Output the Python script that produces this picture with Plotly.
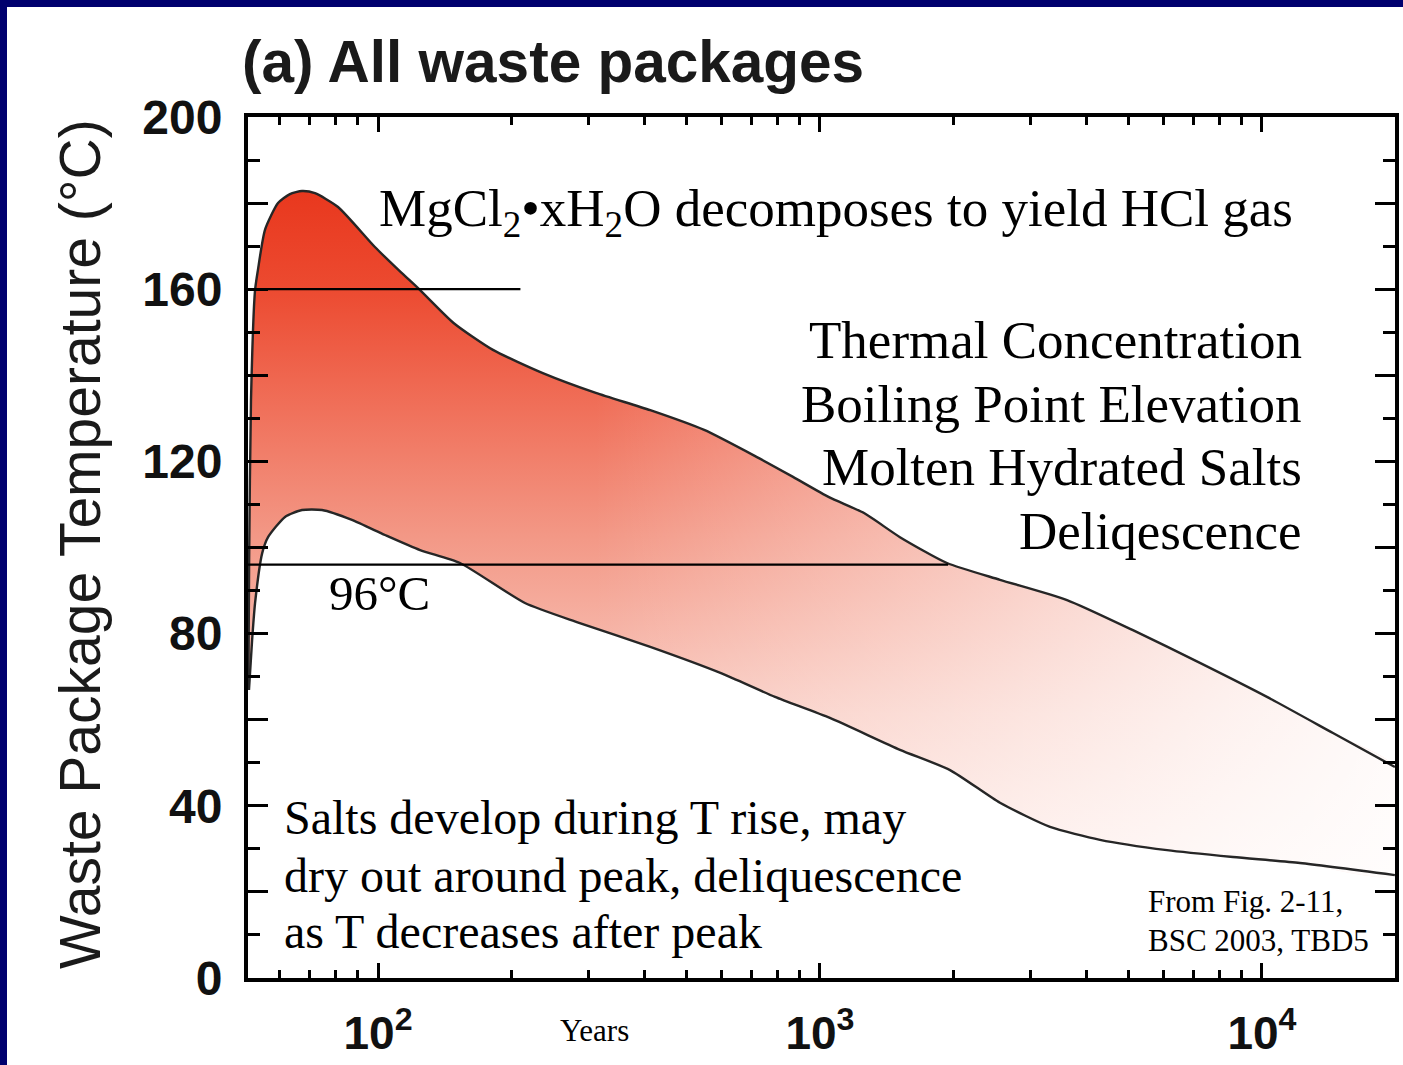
import math
import plotly.graph_objects as go

# ---------------- data ----------------
upper_years = [50.9, 51.1, 51.6, 52.7, 53.5, 55.5, 59.4, 63.2, 67.3, 72.0,
               81.2, 98.4, 112, 124.5, 148.5, 182, 236, 311, 413, 547,
               720, 869, 1048, 1258, 1517, 1938, 2554, 3622, 5106, 7238,
               10264, 14477, 19990]
upper_temp = [66.9, 97.1, 134.3, 159.8, 164.5, 173.8, 180.0, 182.1, 182.8, 182.3,
              179.1, 169.8, 164.2, 159.8, 152.1, 145.9, 140.5, 135.9, 131.9, 127.3,
              121.0, 116.4, 111.7, 108.0, 102.4, 96.4, 92.5, 87.8, 80.8, 73.2,
              65.3, 56.9, 49.0]
lower_years = [51.06, 51.9, 52.7, 54.7, 56.4, 61.6, 67.3, 74.7, 87.3, 103.7,
               124.5, 153.3, 215, 285, 413, 597, 791, 1053, 1517, 1969,
               2554, 3315, 4301, 6098, 8600, 12190, 19990]
lower_temp = [66.9, 78.5, 87.1, 98.7, 102.4, 107.1, 108.7, 108.7, 106.4, 102.9,
              99.4, 96.4, 87.1, 82.5, 76.9, 70.8, 65.3, 60.4, 53.0, 48.3,
              40.7, 35.1, 32.1, 29.7, 28.1, 26.7, 23.9]

ref_temps = [160, 96]
ref_start_year = 50.8
ref_end_years = [210, 1950]

x_major_vals = [100, 1000, 10000]
x_major_text = ["10<sup>2</sup>", "10<sup>3</sup>", "10<sup>4</sup>"]
y_major_vals = [0, 20, 40, 60, 80, 100, 120, 140, 160, 180, 200]
y_major_text = ["0", "", "40", "", "80", "", "120", "", "160", "", "200"]
y_minor_vals = [10, 30, 50, 70, 90, 110, 130, 150, 170, 190]
x_minor_vals = [60, 70, 80, 90, 200, 300, 400, 500, 600, 700, 800, 900,
                2000, 3000, 4000, 5000, 6000, 7000, 8000, 9000]

right_lines = ["Thermal Concentration", "Boiling Point Elevation",
               "Molten Hydrated Salts", "Deliqescence"]
right_lines_temp = [148.2, 133.3, 118.7, 103.8]
salt_lines = ["Salts develop during T rise, may",
              "dry out around peak, deliquescence",
              "as T decreases after peak"]
salt_lines_temp = [37.2, 23.9, 10.7]
src_lines = ["From Fig. 2-11,", "BSC 2003, TBD5"]
src_lines_temp = [17.7, 8.8]

# ---------------- figure ----------------
SERIF = "Liberation Serif, Times New Roman, serif"
SANS = "Liberation Sans, Arial, sans-serif"

poly_x = upper_years + lower_years[::-1]
poly_y = upper_temp + lower_temp[::-1]

fig = go.Figure()

# red vertical gradient fill
fig.add_trace(go.Scatter(
    x=poly_x, y=poly_y, mode="lines", fill="toself",
    line=dict(width=0, color="rgba(0,0,0,0)", shape="spline", smoothing=0.6),
    fillgradient=dict(type="vertical", start=20, stop=185, colorscale=[
        [0.0, "rgb(254,236,232)"],
        [0.25, "rgb(249,202,192)"],
        [0.5, "rgb(243,152,134)"],
        [0.68, "rgb(240,112,90)"],
        [0.85, "rgb(236,74,48)"],
        [1.0, "rgb(232,54,28)"],
    ]),
    hoverinfo="skip"))

# white horizontal fade towards the right
fig.add_trace(go.Scatter(
    x=poly_x, y=poly_y, mode="lines", fill="toself",
    line=dict(width=0, color="rgba(0,0,0,0)", shape="spline", smoothing=0.6),
    fillgradient=dict(type="horizontal", colorscale=[
        [0.0, "rgba(255,255,255,0)"],
        [0.3, "rgba(255,255,255,0)"],
        [0.6, "rgba(255,255,255,0.4)"],
        [0.85, "rgba(255,255,255,0.75)"],
        [1.0, "rgba(255,255,255,0.92)"],
    ]),
    hoverinfo="skip"))

# envelope outlines
for xs, ys in [(upper_years, upper_temp), (lower_years, lower_temp)]:
    fig.add_trace(go.Scatter(
        x=xs, y=ys, mode="lines",
        line=dict(color="#262626", width=2.4, shape="spline", smoothing=0.6),
        hoverinfo="skip"))

# reference lines
for t, xe in zip(ref_temps, ref_end_years):
    fig.add_trace(go.Scatter(
        x=[ref_start_year, xe], y=[t, t], mode="lines",
        line=dict(color="black", width=2.2), hoverinfo="skip"))

W, H = 1403, 1065
L, R, T, B = 248, 8, 117, 87
pw, ph = W - L - R, H - T - B
BOTTOM = T + ph  # pixel row of the x axis


def px2paper_x(px):
    return (px - L) / pw


def py2paper_y(py):
    return (BOTTOM - py) / ph


ann = []
ann.append(dict(text="(a) All waste packages", xref="paper", yref="paper",
                x=px2paper_x(240), y=py2paper_y(61), xanchor="left", yanchor="middle",
                showarrow=False, font=dict(family=SANS, size=58.5, color="#1a1a1a", weight="bold")))
ann.append(dict(text="Waste Package Temperature (°C)", xref="paper", yref="paper",
                x=px2paper_x(80), y=py2paper_y(544), xanchor="center", yanchor="middle",
                textangle=-90, showarrow=False,
                font=dict(family=SANS, size=57, color="#1a1a1a")))
ann.append(dict(text="Years", xref="paper", yref="paper",
                x=px2paper_x(594), y=py2paper_y(1030), xanchor="center", yanchor="middle",
                showarrow=False, font=dict(family=SERIF, size=31, color="black")))
ann.append(dict(text="MgCl<sub>2</sub>•xH<sub>2</sub>O decomposes to yield HCl gas",
                xref="paper", yref="y", x=px2paper_x(377), y=177.9,
                xanchor="left", yanchor="middle", showarrow=False,
                font=dict(family=SERIF, size=53, color="black")))
for txt, yv in zip(right_lines, right_lines_temp):
    ann.append(dict(text=txt, xref="paper", yref="y", x=px2paper_x(1304), y=yv,
                    xanchor="right", yanchor="middle", showarrow=False,
                    font=dict(family=SERIF, size=53, color="black")))
ann.append(dict(text="96°C", xref="paper", yref="y", x=px2paper_x(327), y=89.2,
                xanchor="left", yanchor="middle", showarrow=False,
                font=dict(family=SERIF, size=49, color="black")))
for txt, yv in zip(salt_lines, salt_lines_temp):
    ann.append(dict(text=txt, xref="paper", yref="y", x=px2paper_x(282), y=yv,
                    xanchor="left", yanchor="middle", showarrow=False,
                    font=dict(family=SERIF, size=48, color="black")))
for txt, yv in zip(src_lines, src_lines_temp):
    ann.append(dict(text=txt, xref="paper", yref="y", x=px2paper_x(1146), y=yv,
                    xanchor="left", yanchor="middle", showarrow=False,
                    font=dict(family=SERIF, size=31, color="black")))

navy = "#00006e"
shapes = [
    dict(type="rect", xref="paper", yref="paper", layer="above",
         x0=px2paper_x(-2), x1=px2paper_x(7), y0=py2paper_y(H + 20), y1=py2paper_y(-2),
         fillcolor=navy, line=dict(width=0)),
    dict(type="rect", xref="paper", yref="paper", layer="above",
         x0=px2paper_x(-2), x1=px2paper_x(W + 2), y0=py2paper_y(7), y1=py2paper_y(-2),
         fillcolor=navy, line=dict(width=0)),
]

fig.update_layout(
    width=W, height=H, margin=dict(l=L, r=R, t=T, b=B, autoexpand=False),
    paper_bgcolor="white", plot_bgcolor="white", showlegend=False,
    annotations=ann, shapes=shapes,
    xaxis=dict(type="log", range=[math.log10(50.8), math.log10(20000)],
               automargin=False,
               showline=True, linecolor="black", linewidth=4, mirror="ticks",
               ticks="inside", ticklen=15, tickwidth=3, tickcolor="black",
               tickvals=x_major_vals, ticktext=x_major_text,
               tickfont=dict(family=SANS, size=46, color="#111", weight="bold"),
               ticklabelstandoff=12,
               showgrid=False, zeroline=False,
               minor=dict(ticks="inside", ticklen=8, tickwidth=2.5, tickcolor="black",
                          tickvals=x_minor_vals, showgrid=False)),
    yaxis=dict(range=[0, 200],
               automargin=False,
               showline=True, linecolor="black", linewidth=4, mirror="ticks",
               ticks="inside", ticklen=20, tickwidth=3, tickcolor="black",
               tickvals=y_major_vals, ticktext=y_major_text,
               tickfont=dict(family=SANS, size=48, color="#111", weight="bold"),
               ticklabelstandoff=12,
               showgrid=False, zeroline=False,
               minor=dict(ticks="inside", ticklen=12, tickwidth=2.5, tickcolor="black",
                          tickvals=y_minor_vals, showgrid=False)),
)

fig.write_html("out.html", config={"displayModeBar": False},
               post_script="document.body.style.margin='0';document.body.style.overflow='hidden';")
